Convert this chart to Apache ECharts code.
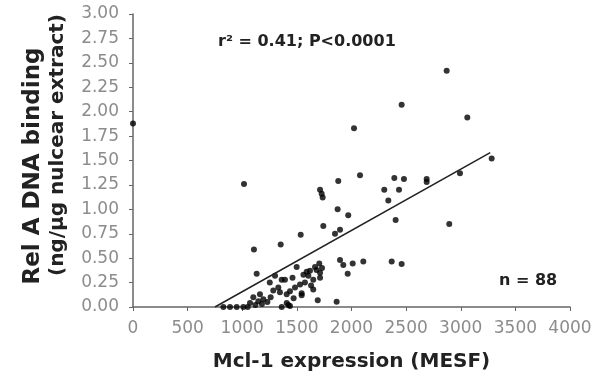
<!DOCTYPE html>
<html><head><meta charset="utf-8">
<script src="https://cdn.jsdelivr.net/npm/echarts@6/dist/echarts.min.js"></script>
<style>html,body{margin:0;padding:0;background:#fff}#c{width:603px;height:378px}</style>
</head><body><div id="c"></div>
<script>
const xTicks = [0,500,1000,1500,2000,2500,3000,3500,4000];
const yTicks = [0,0.25,0.5,0.75,1,1.25,1.5,1.75,2,2.25,2.5,2.75,3];
const mcl1 = [0,1016,1107,1352,1132,2078,1879,2392,2480,2688,2688,2993,3283,1712,1727,1736,2300,2435,2337,1873,1970,2404,2895,1742,1895,1849,1535,1895,1925,2011,2108,1965,2368,2459,1691,1864,1544,1650,1422,1361,1705,1666,1620,1712,1605,1712,1650,1574,1529,1483,1437,1407,1498,1391,1544,1300,1361,1284,1345,1162,1193,1147,1101,1071,1010,949,888,827,1407,1437,2871,2459,3060,2023,1252,1050,1120,1180,1230,1260,1330,1460,1560,1630,1680,1730,1590,1470];
const relA = [1.88,1.26,0.59,0.64,0.34,1.35,1.29,1.32,1.31,1.31,1.28,1.37,1.52,1.20,1.16,1.12,1.20,1.20,1.09,1.00,0.94,0.89,0.85,0.83,0.79,0.75,0.74,0.48,0.43,0.445,0.465,0.34,0.465,0.44,0.07,0.055,0.12,0.18,0.02,0.0,0.445,0.41,0.37,0.35,0.32,0.30,0.28,0.25,0.23,0.20,0.16,0.13,0.41,0.28,0.14,0.32,0.28,0.17,0.15,0.13,0.08,0.06,0.10,0.04,0.0,0.0,0.0,0.0,0.04,0.01,2.42,2.07,1.94,1.83,0.25,0.0,0.02,0.03,0.05,0.10,0.20,0.30,0.33,0.22,0.38,0.40,0.36,0.09];
const regX = [750, 3270];
const regY = [0, 1.58];
const xTitle = 'Mcl-1 expression (MESF)';
const yTitle1 = 'Rel A DNA binding';
const yTitle2 = '(ng/µg nulcear extract)';
const statsText = 'r² = 0.41; P<0.0001';
const nText = 'n = 88';

const pts = mcl1.map((x,i)=>[x, relA[i]]);
const line = regX.map((x,i)=>[x, regY[i]]);
const chart = echarts.init(document.getElementById('c'));
const axisCol = '#666';
const F = 'DejaVu Sans';
chart.setOption({
  animation:false,
  grid:{left:133,right:33,top:14,bottom:71},
  xAxis:{type:'value',min:xTicks[0],max:xTicks[xTicks.length-1],interval:500,
    name:xTitle,nameLocation:'middle',nameGap:45,
    nameTextStyle:{fontFamily:F,fontWeight:'bold',fontSize:20,color:'#222'},
    axisLine:{lineStyle:{color:axisCol,width:1.5}},
    axisTick:{length:4,lineStyle:{color:axisCol}},
    axisLabel:{fontFamily:F,fontSize:17,color:'#8c8c8c',margin:13,formatter:v=>String(v)},
    splitLine:{show:false}},
  yAxis:{type:'value',min:yTicks[0],max:yTicks[yTicks.length-1],interval:0.25,
    axisLine:{lineStyle:{color:axisCol,width:1.5}},
    axisTick:{length:4,lineStyle:{color:axisCol}},
    axisLabel:{fontFamily:F,fontSize:17,color:'#8c8c8c',margin:14,formatter:v=>v.toFixed(2)},
    splitLine:{show:false}},
  series:[
    {type:'scatter',data:pts,symbolSize:6,itemStyle:{color:'#000'}},
    {type:'line',data:line,symbol:'none',lineStyle:{color:'#222',width:1.5}}
  ],
  graphic:[
    {type:'text',x:33,y:166,rotation:Math.PI/2,style:{text:yTitle1,font:'bold 23px "DejaVu Sans"',fill:'#222',align:'center',verticalAlign:'middle'}},
    {type:'text',x:58,y:145,rotation:Math.PI/2,style:{text:yTitle2,font:'bold 20px "DejaVu Sans"',fill:'#222',align:'center',verticalAlign:'middle'}},
    {type:'text',x:218,y:42,style:{text:statsText,font:'bold 16px "DejaVu Sans"',fill:'#222',verticalAlign:'middle'}},
    {type:'text',x:499,y:281,style:{text:nText,font:'bold 16px "DejaVu Sans"',fill:'#222',verticalAlign:'middle'}}
  ]
});
</script></body></html>
